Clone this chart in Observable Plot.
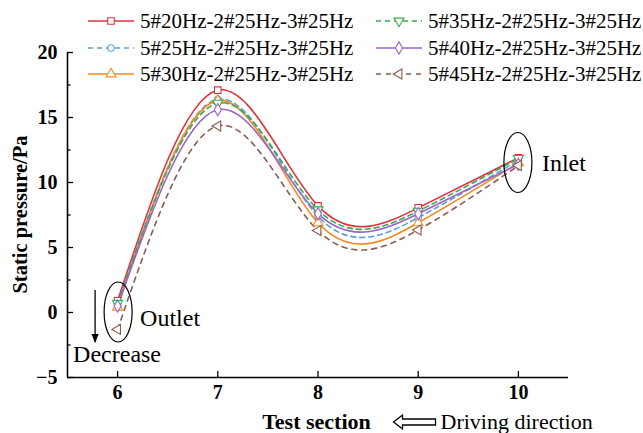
<!DOCTYPE html>
<html><head><meta charset="utf-8">
<script src="https://cdn.jsdelivr.net/npm/d3@7"></script>
<script src="https://cdn.jsdelivr.net/npm/@observablehq/plot@0.6"></script>
<style>
body{margin:0;background:#fff;}
#wrap{position:relative;width:643px;height:433px;}
</style></head><body><div id="wrap"></div>
<script>
// ---- data ----
const sections = [6, 7, 8, 9, 10];
const seriesNames = [
  "5#20Hz-2#25Hz-3#25Hz",
  "5#25Hz-2#25Hz-3#25Hz",
  "5#30Hz-2#25Hz-3#25Hz",
  "5#35Hz-2#25Hz-3#25Hz",
  "5#40Hz-2#25Hz-3#25Hz",
  "5#45Hz-2#25Hz-3#25Hz"
];
const s20 = [0.9, 17.1, 8.2, 8.05, 11.9];
const s25 = [0.5, 16.4, 7.4, 7.3, 11.7];
const s30 = [0.4, 16.3, 6.9, 6.9, 11.5];
const s35 = [0.7, 16.1, 7.9, 7.8, 11.85];
const s40 = [0.5, 15.6, 7.6, 7.6, 11.4];
const s45 = [-1.3, 14.35, 6.3, 6.35, 11.3];
const seriesValues = [s20, s25, s30, s35, s40, s45];
const yTicks = [-5, 0, 5, 10, 15, 20];
const yMinorTicks = [-2.5, 2.5, 7.5, 12.5, 17.5];
const xTicks = [6, 7, 8, 9, 10];

// ---- styles ----
const styles = [
  {stroke: "#e0323c", dash: null, symbol: "square", rotate: 0, r: 3.7},
  {stroke: "#5b9fdb", dash: "5,4", symbol: "circle", rotate: 0, r: 3.2},
  {stroke: "#f7881c", dash: null, symbol: "triangle", rotate: 0, r: 3.7},
  {stroke: "#3da84a", dash: "5,4", symbol: "triangle", rotate: 180, r: 3.7},
  {stroke: "#9b63c9", dash: null, symbol: "diamond", rotate: 0, r: 3.7},
  {stroke: "#8c5a4f", dash: "5,5", symbol: "triangle", rotate: -90, r: 3.7}
];
const serif = "'Liberation Serif', 'Times New Roman', serif";

const rows = [];
seriesNames.forEach((name, i) => sections.forEach((s, j) => rows.push({name, i, x: s, y: seriesValues[i][j]})));

const marks = [];
seriesNames.forEach((name, i) => {
  const d = rows.filter(r => r.i === i);
  const st = styles[i];
  marks.push(Plot.line(d, {x: "x", y: "y", curve: "natural", stroke: st.stroke, strokeWidth: 1.6, strokeDasharray: st.dash}));
});
seriesNames.forEach((name, i) => {
  const d = rows.filter(r => r.i === i);
  const st = styles[i];
  marks.push(Plot.dot(d, {x: "x", y: "y", symbol: st.symbol, rotate: st.rotate, r: st.r, stroke: st.stroke, strokeWidth: 1.1, fill: "white"}));
});

const plot = Plot.plot({
  width: 643, height: 433,
  marginLeft: 67, marginRight: 75, marginTop: 52, marginBottom: 56,
  style: {fontFamily: serif, background: "white", overflow: "visible"},
  x: {domain: [5.5, 10.5], axis: null},
  y: {domain: [-5, 20], axis: null},
  marks: [
    Plot.axisY(yMinorTicks, {tickSize: -3.5, text: null, label: null, stroke: "black", strokeWidth: 1.3}),
    Plot.axisY(yTicks, {tickSize: -6, tickPadding: 16, label: null, fontSize: 20, fontWeight: "bold", fill: "black", stroke: "black", strokeWidth: 1.3}),
    Plot.axisX(xTicks, {tickSize: -6, tickPadding: 13, label: null, fontSize: 20, fontWeight: "bold", fill: "black", stroke: "black", strokeWidth: 1.3}),
    Plot.ruleX([5.5], {stroke: "black", strokeWidth: 1.6}),
    Plot.ruleY([-5], {stroke: "black", strokeWidth: 1.6}),
    ...marks
  ]
});
document.getElementById("wrap").appendChild(plot);

// ---- overlays ----
const X = plot.scale("x"), Y = plot.scale("y");
const svg = d3.select(plot);
const defs = svg.append("defs");
defs.append("marker").attr("id", "ah").attr("viewBox", "0 0 10 10").attr("refX", 9).attr("refY", 5)
  .attr("markerWidth", 7).attr("markerHeight", 7).attr("orient", "auto")
  .append("path").attr("d", "M0,1 L10,5 L0,9 z").attr("fill", "black");
const g = svg.append("g").attr("font-family", serif).attr("text-anchor", "start");

// y title
g.append("text").attr("transform", `translate(27,${Y.apply(7.5)}) rotate(-90)`)
  .attr("text-anchor", "middle").attr("font-size", 20.5).attr("font-weight", "bold").text("Static pressure/Pa");

// x title
const xMid = (X.apply(5.5) + X.apply(10.5)) / 2;
g.append("text").attr("x", xMid - 1).attr("y", 429).attr("text-anchor", "middle")
  .attr("font-size", 22).attr("font-weight", "bold").text("Test section");
const ax = xMid + 76, ay = 422;
g.append("path").attr("d", `M${ax},${ay} l9,-7 v4 h33 v6 h-33 v4 z`).attr("fill", "white").attr("stroke", "black").attr("stroke-width", 1.3);
g.append("text").attr("x", ax + 47).attr("y", 429).attr("font-size", 22).text("Driving direction");

// Outlet annotation
const ox = X.apply(6), oy = Y.apply(0);
g.append("ellipse").attr("cx", ox + 1).attr("cy", oy).attr("rx", 14).attr("ry", 30).attr("fill", "none").attr("stroke", "black").attr("stroke-width", 1.2);
g.append("text").attr("x", ox + 23).attr("y", oy + 14).attr("font-size", 24).text("Outlet");
g.append("line").attr("x1", ox - 22).attr("x2", ox - 22).attr("y1", oy - 22).attr("y2", oy + 30)
  .attr("stroke", "black").attr("stroke-width", 1.3).attr("marker-end", "url(#ah)");
g.append("text").attr("x", ox - 44).attr("y", oy + 50).attr("font-size", 24).text("Decrease");

// Inlet annotation
const ix = X.apply(10), iy = Y.apply(11.5);
g.append("ellipse").attr("cx", ix).attr("cy", iy).attr("rx", 14).attr("ry", 30).attr("fill", "none").attr("stroke", "black").attr("stroke-width", 1.2);
g.append("text").attr("x", ix + 24).attr("y", iy + 8).attr("font-size", 24).text("Inlet");

// legend
const symMap = {square: d3.symbolSquare, circle: d3.symbolCircle, triangle: d3.symbolTriangle, diamond: d3.symbolDiamond};
const legCols = [88, 376], legRows = [21, 48, 74];
seriesNames.forEach((name, i) => {
  const st = styles[i];
  const cx = legCols[Math.floor(i / 3)], cy = legRows[i % 3];
  const lg = g.append("g");
  lg.append("line").attr("x1", cx).attr("x2", cx + 46).attr("y1", cy).attr("y2", cy)
    .attr("stroke", st.stroke).attr("stroke-width", 1.6).attr("stroke-dasharray", st.dash);
  lg.append("path").attr("d", d3.symbol(symMap[st.symbol], Math.PI * st.r * st.r)())
    .attr("transform", `translate(${cx + 23},${cy}) rotate(${st.rotate})`)
    .attr("fill", "white").attr("stroke", st.stroke).attr("stroke-width", 1.1);
  lg.append("text").attr("x", cx + 52).attr("y", cy + 7).attr("font-size", 21).text(name);
});
</script></body></html>
